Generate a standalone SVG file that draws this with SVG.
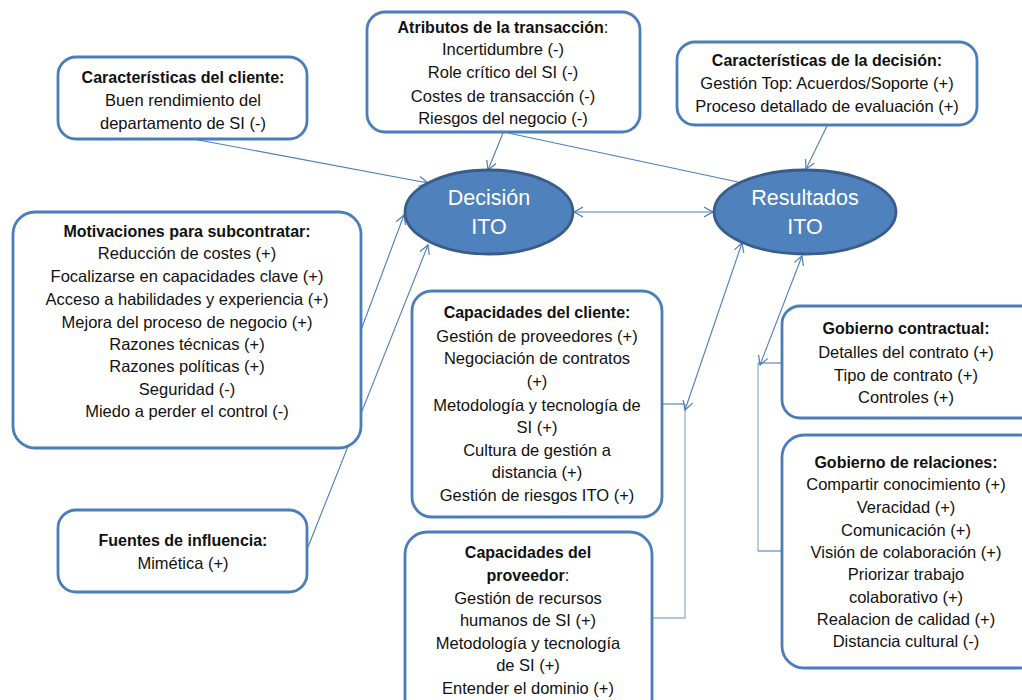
<svg xmlns="http://www.w3.org/2000/svg" width="1022" height="700" viewBox="0 0 1022 700">
<defs>
<marker id="arr" markerUnits="userSpaceOnUse" markerWidth="12" markerHeight="12" refX="9" refY="5" orient="auto-start-reverse" viewBox="0 0 12 10">
<path d="M0,0 L9,5 L0,10" fill="none" stroke="#4a7ebb" stroke-width="1.2"/>
</marker>
</defs>
<style>
.box{fill:#fff;stroke:#4a7ebb;stroke-width:2.8}
.ell{fill:#4f81bd;stroke:#385d8a;stroke-width:2.8}
.t{font-family:"Liberation Sans",Arial,sans-serif;font-size:16.5px;fill:#111;text-anchor:middle}
.b{font-weight:bold;font-size:16px}
.et{font-family:"Liberation Sans",Arial,sans-serif;font-size:21.5px;fill:#fff;text-anchor:middle}
.ln{fill:none;stroke:#4a7ebb;stroke-width:1.1}
.br{fill:none;stroke:#95b3d7;stroke-width:1.3}
</style>
<rect width="1022" height="700" fill="#fff"/>
<g id="connectors">
<line class="ln" x1="193" y1="139" x2="428" y2="183" marker-end="url(#arr)"/>
<line class="ln" x1="503" y1="133" x2="488" y2="170" marker-end="url(#arr)"/>
<line class="ln" x1="508" y1="133" x2="738" y2="182"/>
<line class="ln" x1="827" y1="126" x2="806" y2="169" marker-end="url(#arr)"/>
<line class="ln" x1="574" y1="212" x2="713" y2="212" marker-start="url(#arr)" marker-end="url(#arr)"/>
<line class="ln" x1="361" y1="330" x2="404" y2="215" marker-end="url(#arr)"/>
<line class="ln" x1="308" y1="547" x2="428" y2="245" marker-end="url(#arr)"/>
<polyline class="br" points="685,404 685,618 652,618"/>
<line class="ln" x1="662" y1="404" x2="685" y2="404"/>
<line class="ln" x1="685" y1="410" x2="742" y2="243" marker-start="url(#arr)" marker-end="url(#arr)"/>
<polyline class="br" points="758,363 758,551"/>
<line class="ln" x1="782" y1="363" x2="758" y2="363"/>
<line class="ln" x1="782" y1="551" x2="758" y2="551"/>
<line class="ln" x1="760" y1="365" x2="802" y2="256" marker-start="url(#arr)" marker-end="url(#arr)"/>
</g>
<g id="n-cliente">
<rect class="box" x="58" y="57" width="249" height="82" rx="18"/>
<text class="t b" x="183" y="83">Características del cliente:</text>
<text class="t" x="183" y="106">Buen rendimiento del</text>
<text class="t" x="183" y="129">departamento de SI (-)</text>
</g>
<g id="n-atributos">
<rect class="box" x="367" y="12" width="273" height="120" rx="18"/>
<text class="t" x="503" y="33"><tspan class="b">Atributos de la transacción</tspan>:</text>
<text class="t" x="503" y="55">Incertidumbre (-)</text>
<text class="t" x="503" y="78">Role crítico del SI (-)</text>
<text class="t" x="503" y="102">Costes de transacción (-)</text>
<text class="t" x="503" y="124">Riesgos del negocio (-)</text>
</g>
<g id="n-decision">
<rect class="box" x="677" y="42" width="300" height="83" rx="18"/>
<text class="t b" x="827" y="66">Características de la decisión:</text>
<text class="t" x="827" y="89">Gestión Top: Acuerdos/Soporte (+)</text>
<text class="t" x="827" y="112">Proceso detallado de evaluación (+)</text>
</g>
<g id="n-motivaciones">
<rect class="box" x="13" y="212" width="348" height="236" rx="22"/>
<text class="t b" x="187" y="237">Motivaciones para subcontratar:</text>
<text class="t" x="187" y="259">Reducción de costes (+)</text>
<text class="t" x="187" y="282">Focalizarse en capacidades clave (+)</text>
<text class="t" x="187" y="305">Acceso a habilidades y experiencia (+)</text>
<text class="t" x="187" y="328">Mejora del proceso de negocio (+)</text>
<text class="t" x="187" y="350">Razones técnicas (+)</text>
<text class="t" x="187" y="372">Razones políticas (+)</text>
<text class="t" x="187" y="395">Seguridad (-)</text>
<text class="t" x="187" y="417">Miedo a perder el control (-)</text>
</g>
<g id="n-fuentes">
<rect class="box" x="58" y="510" width="249" height="82" rx="18"/>
<text class="t b" x="183" y="546">Fuentes de influencia:</text>
<text class="t" x="183" y="569">Mimética (+)</text>
</g>
<g id="n-capcliente">
<rect class="box" x="412" y="291" width="250" height="226" rx="20"/>
<text class="t b" x="537" y="318">Capacidades del cliente:</text>
<text class="t" x="537" y="342">Gestión de proveedores (+)</text>
<text class="t" x="537" y="364">Negociación de contratos</text>
<text class="t" x="537" y="387">(+)</text>
<text class="t" x="537" y="411">Metodología y tecnología de</text>
<text class="t" x="537" y="433">SI (+)</text>
<text class="t" x="537" y="456">Cultura de gestión a</text>
<text class="t" x="537" y="478">distancia (+)</text>
<text class="t" x="537" y="501">Gestión de riesgos ITO (+)</text>
</g>
<g id="n-capproveedor">
<rect class="box" x="405" y="532" width="247" height="190" rx="22"/>
<text class="t b" x="528" y="558">Capacidades del</text>
<text class="t" x="528" y="581"><tspan class="b">proveedor</tspan>:</text>
<text class="t" x="528" y="604">Gestión de recursos</text>
<text class="t" x="528" y="626">humanos de SI (+)</text>
<text class="t" x="528" y="649">Metodología y tecnología</text>
<text class="t" x="528" y="671">de SI (+)</text>
<text class="t" x="528" y="694">Entender el dominio (+)</text>
</g>
<g id="n-gobcontractual">
<rect class="box" x="782" y="306" width="260" height="112" rx="18"/>
<text class="t b" x="906" y="334">Gobierno contractual:</text>
<text class="t" x="906" y="358">Detalles del contrato (+)</text>
<text class="t" x="906" y="381">Tipo de contrato (+)</text>
<text class="t" x="906" y="403">Controles (+)</text>
</g>
<g id="n-gobrelaciones">
<rect class="box" x="782" y="435" width="260" height="233" rx="22"/>
<text class="t b" x="906" y="468">Gobierno de relaciones:</text>
<text class="t" x="906" y="490">Compartir conocimiento (+)</text>
<text class="t" x="906" y="513">Veracidad (+)</text>
<text class="t" x="906" y="536">Comunicación (+)</text>
<text class="t" x="906" y="558">Visión de colaboración (+)</text>
<text class="t" x="906" y="580">Priorizar trabajo</text>
<text class="t" x="906" y="603">colaborativo (+)</text>
<text class="t" x="906" y="625">Realacion de calidad (+)</text>
<text class="t" x="906" y="647">Distancia cultural (-)</text>
</g>
<g id="n-decisionito">
<ellipse class="ell" cx="489" cy="212" rx="84" ry="42"/>
<text class="et" x="489" y="205">Decisión</text>
<text class="et" x="489" y="234">ITO</text>
</g>
<g id="n-resultadosito">
<ellipse class="ell" cx="805" cy="212" rx="91" ry="42"/>
<text class="et" x="805" y="205">Resultados</text>
<text class="et" x="805" y="234">ITO</text>
</g>
</svg>
